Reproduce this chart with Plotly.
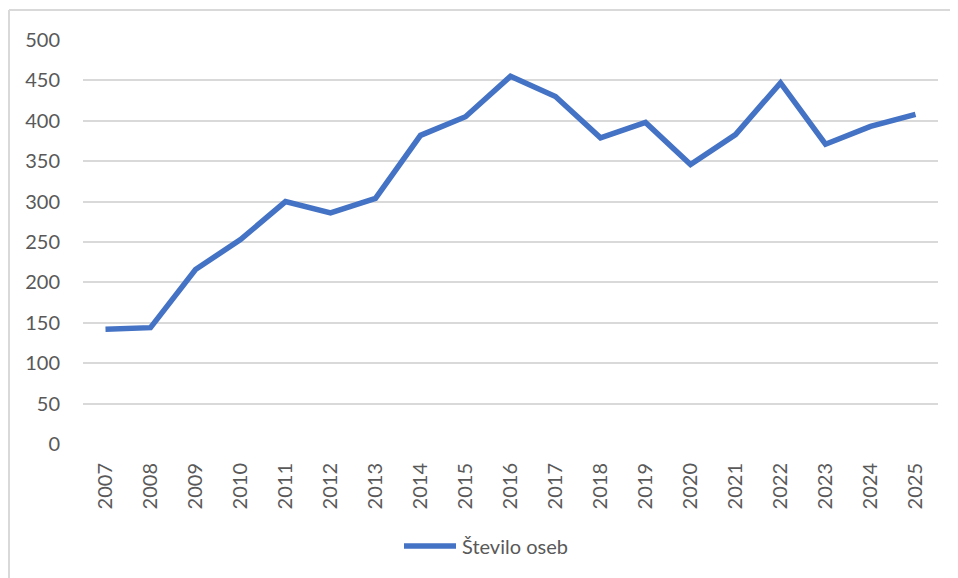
import plotly.graph_objects as go

years = [str(y) for y in range(2007, 2026)]
values = [142, 144, 216, 253, 300, 286, 304, 382, 405, 455, 430, 379, 398, 346, 383, 447, 371, 393, 408]
series_name = "Število oseb"
y_ticks = [0, 50, 100, 150, 200, 250, 300, 350, 400, 450, 500]

# page body has an 8px offset; work in reference pixel coordinates
OFF = 8
W, H = 958 - OFF, 578 - OFF
L, T = 83 - OFF, 40 - OFF
pw, ph = 855, 404
R, B = W - L - pw, H - T - ph

def px_x(px):
    return (px - OFF - L) / pw

def px_y(py):
    return (T + ph - (py - OFF)) / ph

COLOR = "#4472C4"
TXT = "#595959"
font_family = "Lato, 'Open Sans', sans-serif"

fig = go.Figure()
fig.add_trace(go.Scatter(
    x=years, y=values, mode="lines", name=series_name,
    line=dict(color=COLOR, width=5.5), showlegend=False,
))

fig.update_layout(
    width=W, height=H,
    margin=dict(l=L, r=R, t=T, b=B),
    paper_bgcolor="white", plot_bgcolor="white",
    font=dict(family=font_family, size=20, color=TXT),
    showlegend=False,
    xaxis=dict(type="category", range=[-0.5, len(years) - 0.5], tickangle=-90,
               showgrid=False, showline=False, zeroline=False,
               ticks="", ticklabelstandoff=14, tickfont=dict(size=20, color=TXT)),
    yaxis=dict(range=[0, 500], tickvals=y_ticks, showgrid=True, gridcolor="#d9d9d9",
               gridwidth=1.5, zeroline=False, showline=False, ticks="",
               ticklabelstandoff=22, tickfont=dict(size=20, color=TXT)),
    shapes=[
        dict(type="line", xref="paper", yref="paper", x0=px_x(9), y0=px_y(10), x1=px_x(960), y1=px_y(10),
             line=dict(color="#d9d9d9", width=2)),
        dict(type="line", xref="paper", yref="paper", x0=px_x(9), y0=px_y(10), x1=px_x(9), y1=px_y(580),
             line=dict(color="#d9d9d9", width=2)),
        # legend sample line
        dict(type="line", xref="paper", yref="paper", x0=px_x(404), y0=px_y(546), x1=px_x(456), y1=px_y(546),
             line=dict(color=COLOR, width=5.5)),
    ],
    annotations=[
        dict(text=series_name, xref="paper", yref="paper", x=px_x(460), y=px_y(546),
             xanchor="left", yanchor="middle", showarrow=False,
             font=dict(size=20, color=TXT, family=font_family)),
    ],
)

fig.write_html("out.html")
